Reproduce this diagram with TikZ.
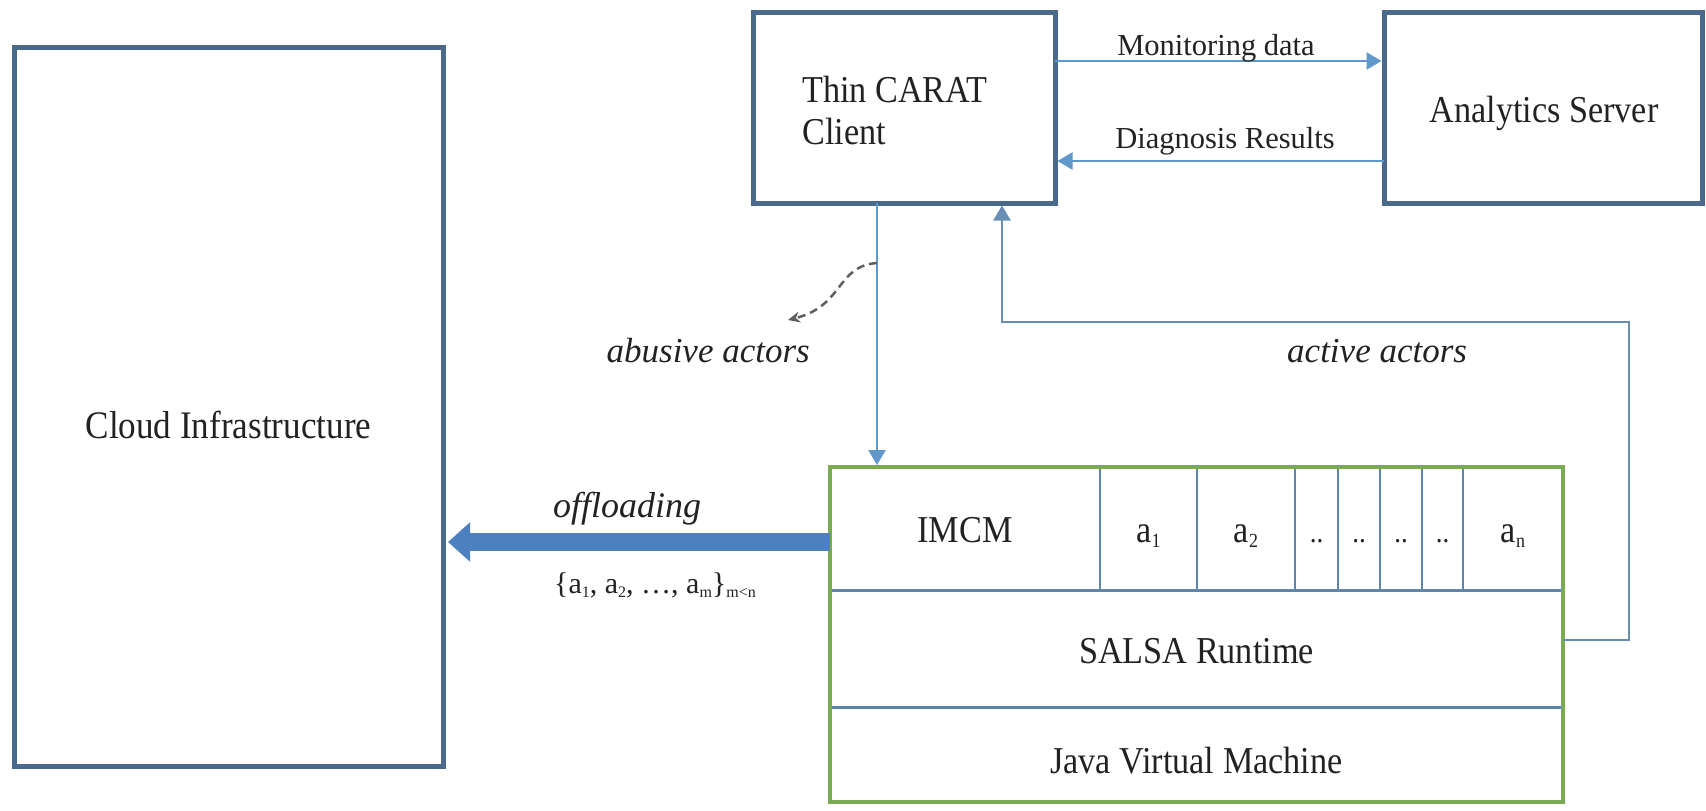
\documentclass[tikz,border=0pt]{standalone}
\usepackage{fontspec}
\setmainfont{Liberation Serif}
\newfontfamily\condfont[FakeStretch=0.9]{Liberation Serif}
\usetikzlibrary{arrows.meta,calc}
\definecolor{boxedge}{RGB}{74,106,140}
\definecolor{flowblue}{RGB}{96,152,204}
\definecolor{loopblue}{RGB}{104,142,180}
\definecolor{cellline}{RGB}{92,134,172}
\definecolor{stackgreen}{RGB}{122,170,82}
\definecolor{bigblue}{RGB}{76,128,190}
\definecolor{ink}{RGB}{34,34,34}
\definecolor{dashgray}{RGB}{95,95,95}
% small, low subscripts: #1 = size, #2 = drop, #3 = text
\newcommand\lowsub[3]{\raisebox{-#2}{\fontsize{#1}{#1}\selectfont #3}}
\begin{document}
\begin{tikzpicture}[x=1pt,y=-1pt,
  box/.style={draw=boxedge, line width=5pt, inner sep=0pt, outer sep=0pt},
  boxtxt/.style={font=\condfont\fontsize{38}{42}\selectfont, text=ink, inner sep=0pt, anchor=base},
  lbl/.style={font=\fontsize{30.5}{34}\selectfont, text=ink, inner sep=0pt, anchor=base},
  itl/.style={font=\itshape\fontsize{35}{40}\selectfont, text=ink, inner sep=0pt, anchor=base},
  flow/.style={draw=flowblue, line width=2.5pt, -{Triangle[length=15pt,width=17pt]}},
  loopflow/.style={draw=loopblue, line width=2.5pt, -{Triangle[length=15pt,width=17pt]}},
  divider/.style={draw=cellline, line width=2pt},
  rowline/.style={draw=cellline, line width=3pt},
  bigarrow/.style={draw=bigblue, line width=18pt, -{Triangle[length=22pt,width=38pt]}},
  abuse/.style={draw=dashgray, line width=2.5pt, dash pattern=on 8pt off 5pt,
                -{Stealth[length=12pt,width=11pt]}}
]
\useasboundingbox (0,0) rectangle (1706,811);

% main boxes
\node[box, minimum width=429pt, minimum height=719pt] (cloud) at (228.5,406.5) {};
\node[boxtxt, font=\condfont\fontsize{39}{44}\selectfont] (cloudtxt) at (228.5,438) {Cloud Infrastructure};

\node[box, minimum width=302pt, minimum height=191pt] (client) at (904,107.5) {};
\node[boxtxt, anchor=base west] (clienttxta) at (802,102) {Thin CARAT};
\node[boxtxt, anchor=base west] (clienttxtb) at (802,144) {Client};

\node[box, minimum width=318pt, minimum height=191pt] (server) at (1543,107.5) {};
\node[boxtxt] (servertxt) at (1544,122) {Analytics Server};

% runtime stack: rows and actor cells
\draw[rowline] (830,590) -- (1563,590);
\draw[rowline] (830,707) -- (1563,707);
\foreach \cx in {1100,1197,1295,1338,1380,1422,1463}
  \draw[divider] (\cx,467) -- (\cx,590);
\node[draw=stackgreen, line width=4pt, minimum width=733pt, minimum height=335pt,
      inner sep=0pt, outer sep=0pt] (stack) at (1196.5,634.5) {};

\node[boxtxt] (imcm) at (965,542) {IMCM};
\node[boxtxt] (acta) at (1148.5,542) {a\lowsub{20pt}{5pt}{1}};
\node[boxtxt] (actb) at (1246,542) {a\lowsub{20pt}{5pt}{2}};
\node[boxtxt, font=\condfont\fontsize{30}{34}\selectfont] (dota) at (1316.5,542) {..};
\node[boxtxt, font=\condfont\fontsize{30}{34}\selectfont] (dotb) at (1359,542) {..};
\node[boxtxt, font=\condfont\fontsize{30}{34}\selectfont] (dotc) at (1401,542) {..};
\node[boxtxt, font=\condfont\fontsize{30}{34}\selectfont] (dotd) at (1442.5,542) {..};
\node[boxtxt] (actn) at (1513,542) {a\lowsub{20pt}{5pt}{n}};
\node[boxtxt] (salsa) at (1196.5,663) {SALSA Runtime};
\node[boxtxt] (jvm) at (1196.5,773) {Java Virtual Machine};

% client <-> server
\coordinate (mon) at (0,61);
\coordinate (dia) at (0,161);
\draw[flow, shorten >=2.5pt] (client.east |- mon) -- (server.west |- mon);
\draw[flow, shorten >=2.5pt] (server.west |- dia) -- (client.east |- dia);
\node[lbl] (montxt) at (1216,55) {Monitoring data};
\node[lbl] (diatxt) at (1225,148) {Diagnosis Results};

% client -> stack
\coordinate (dx) at (877,0);
\draw[flow, shorten >=2pt] (client.south -| dx) -- (stack.north -| dx);

% abusive actors branch off
\coordinate (ab0) at (877,263);
\coordinate (ab1) at (788,320);
\draw[abuse] (ab0) .. controls (836,266) and (844,306) .. (ab1);
\node[itl, anchor=base east] (abusetxt) at (810,362) {abusive actors};

% stack -> client (active actors)
\coordinate (lp1) at (1629,640);
\coordinate (lp2) at (1629,322);
\coordinate (lp3) at (1002,322);
\draw[loopflow, shorten >=2.5pt] (stack.east |- lp1) -- (lp1) -- (lp2) -- (lp3) -- (client.south -| lp3);
\node[itl, anchor=base west] (activetxt) at (1287,362) {active actors};

% offloading to the cloud
\coordinate (off) at (0,542);
\draw[bigarrow, shorten >=5pt] (stack.west |- off) -- (cloud.east |- off);
\node[itl, font=\itshape\fontsize{36}{40}\selectfont] (offtxt) at (627,517) {offloading};
\node[lbl, font=\fontsize{30}{34}\selectfont] (settxt) at (655,593)
  {\{a\lowsub{16pt}{4pt}{1}, a\lowsub{16pt}{4pt}{2}, …, a\lowsub{16pt}{4pt}{m}\}\lowsub{16pt}{4pt}{m<n}};
\end{tikzpicture}
\end{document}
